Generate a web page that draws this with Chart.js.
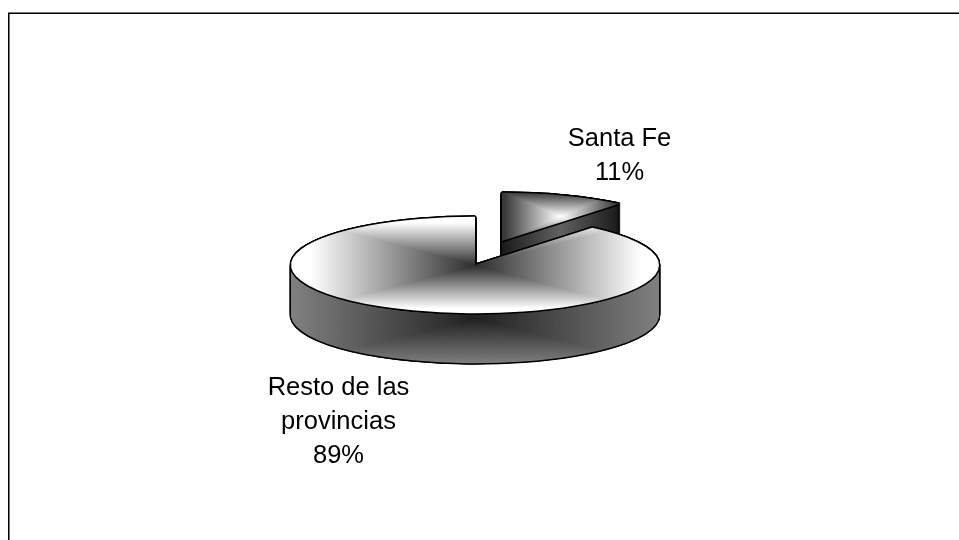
<!DOCTYPE html>
<html>
<head>
<meta charset="utf-8">
<style>
  html, body { margin: 0; padding: 0; background: #fff; }
  canvas { display: block; }
</style>
<script src="https://cdn.jsdelivr.net/npm/chart.js@4/dist/chart.umd.min.js"></script>
</head>
<body>
<canvas id="pie" width="959" height="540"></canvas>
<script>
const categories = ['Santa Fe', 'Resto de las provincias'];
const labelLines = [['Santa Fe'], ['Resto de las', 'provincias']];
const shares = [11, 89];

// look of the 3D pie, in canvas pixels
const pieRadius = 184;
const squash = 0.262;
const depth = 50;
const sliceShift = [{ x: 27, y: -24 }, { x: 0, y: 0 }];
const labelAnchors = [{ x: 619.5, y: 146 }, { x: 338.5, y: 395 }];
const lineGap = 34;

// rectangular "from centre" shading, like the old Office gradient fills
function rectShade(ctx, cx, cy, hx, hy, inner, outer) {
  const off = document.createElement('canvas');
  off.width = 959;
  off.height = 540;
  const octx = off.getContext('2d');
  const img = octx.createImageData(959, 540);
  for (let y = 0; y < 540; y++) {
    for (let x = 0; x < 959; x++) {
      const t = Math.min(1, Math.max(Math.abs(x - cx) / hx, Math.abs(y - cy) / hy));
      const g = inner + (outer - inner) * t;
      const i = (y * 959 + x) * 4;
      img.data[i] = img.data[i + 1] = img.data[i + 2] = g;
      img.data[i + 3] = 255;
    }
  }
  octx.putImageData(img, 0, 0);
  return ctx.createPattern(off, 'no-repeat');
}

const ctx = document.getElementById('pie').getContext('2d');
const topShades = [
  rectShade(ctx, 560, 216, 56, 24, 255, 56),
  rectShade(ctx, 475, 265, 165, 43, 45, 255)
];
const wallShades = [
  rectShade(ctx, 560, 240, 58, 1000, 96, 26),
  rectShade(ctx, 475, 318, 185, 46, 32, 128)
];

const pie3d = {
  id: 'pie3d',
  beforeDraw(chart) {
    const c = chart.ctx;
    c.save();
    c.fillStyle = '#777';
    c.fillRect(8, 12, 951, 1);
    c.fillRect(9, 14, 1, 526);
    c.fillStyle = '#000';
    c.fillRect(8, 13, 951, 1);
    c.fillRect(8, 13, 1, 527);
    c.restore();
  },
  beforeDatasetsDraw(chart) {
    const c = chart.ctx;
    const arcs = chart.getDatasetMeta(0).data;
    const cy = arcs[0].y;

    const paint = (arc, dx, dy, fill) => {
      const m = new DOMMatrix().translate(dx, dy).translate(0, cy).scale(1, squash).translate(0, -cy);
      if (typeof fill !== 'string') fill.setTransform(m.inverse());
      const saved = arc.options;
      arc.options = { ...saved, backgroundColor: fill, borderWidth: 0 };
      c.save();
      c.transform(m.a, m.b, m.c, m.d, m.e, m.f);
      arc.draw(c);
      c.restore();
      arc.options = saved;
    };

    const ring = [[-1.5, 0], [1.5, 0], [0, -1.5], [0, 1.5], [-1.1, -1.1], [1.1, -1.1], [-1.1, 1.1], [1.1, 1.1]];

    arcs.forEach((arc, i) => {
      const s = sliceShift[i];
      // outline of the whole solid first, then the wall, then the top face
      for (let d = depth; d >= 0; d--) {
        ring.forEach(r => paint(arc, s.x + r[0], s.y + d + r[1], '#000'));
      }
      for (let d = depth; d >= 1; d--) {
        paint(arc, s.x, s.y + d, wallShades[i]);
      }
      ring.forEach(r => paint(arc, s.x + r[0], s.y + r[1], '#000'));
      paint(arc, s.x, s.y, topShades[i]);
    });
    return false;
  },
  afterDraw(chart) {
    const c = chart.ctx;
    c.save();
    c.fillStyle = '#000';
    c.font = '25.5px "Liberation Sans", Arial, sans-serif';
    c.textAlign = 'center';
    c.textBaseline = 'alphabetic';
    labelLines.forEach((lines, i) => {
      const a = labelAnchors[i];
      lines.concat(shares[i] + '%').forEach((t, n) => c.fillText(t, a.x, a.y + n * lineGap));
    });
    c.restore();
  }
};

new Chart(ctx, {
  type: 'pie',
  data: {
    labels: categories,
    datasets: [{
      data: shares,
      backgroundColor: '#fff',
      borderWidth: 0
    }]
  },
  options: {
    responsive: false,
    animation: false,
    radius: pieRadius,
    layout: { padding: { right: 9, bottom: 10 } },
    plugins: {
      legend: { display: false },
      tooltip: { enabled: false }
    }
  },
  plugins: [pie3d]
});
</script>
</body>
</html>
